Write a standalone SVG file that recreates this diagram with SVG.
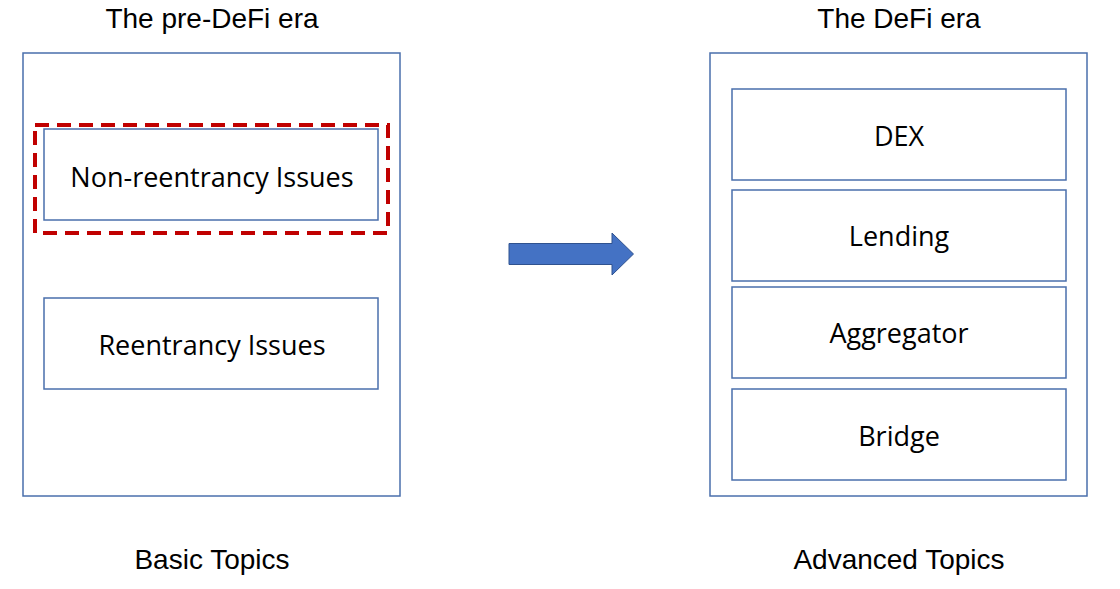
<svg xmlns="http://www.w3.org/2000/svg" width="1120" height="589" viewBox="0 0 1120 589">
<style>
.box{fill:#fff;stroke:#4a6fac;stroke-width:1.5}
.title{font-family:"Liberation Sans",Arial,sans-serif;font-size:28px;fill:#000;text-anchor:middle}
.lbl{font-family:"Open Sans","Noto Sans",sans-serif;font-size:27px;fill:#000;text-anchor:middle}
</style>
<rect width="1120" height="589" fill="#fff"/>
<g id="pre-defi">
<rect class="box" x="23" y="53" width="377" height="443"/>
<text class="title" x="212" y="28">The pre-DeFi era</text>
<text class="title" x="212" y="569">Basic Topics</text>
</g>
<g id="non-reentrancy">
<rect class="box" x="44" y="129" width="334" height="91"/>
<text class="lbl" x="212" y="187">Non-reentrancy Issues</text>
</g>
<g id="highlight">
<rect x="35" y="125" width="353" height="108" fill="none" stroke="#c00000" stroke-width="4" stroke-dasharray="14 8"/>
</g>
<g id="reentrancy">
<rect class="box" x="44" y="298" width="334" height="91"/>
<text class="lbl" x="212" y="355">Reentrancy Issues</text>
</g>
<g id="defi">
<rect class="box" x="710" y="53" width="377" height="443"/>
<text class="title" x="899" y="28">The DeFi era</text>
<text class="title" x="899" y="569">Advanced Topics</text>
</g>
<g id="dex">
<rect class="box" x="732" y="89" width="334" height="91"/>
<text class="lbl" x="899" y="146">DEX</text>
</g>
<g id="lending">
<rect class="box" x="732" y="190" width="334" height="91"/>
<text class="lbl" x="899" y="246">Lending</text>
</g>
<g id="aggregator">
<rect class="box" x="732" y="287" width="334" height="91"/>
<text class="lbl" x="899" y="343">Aggregator</text>
</g>
<g id="bridge">
<rect class="box" x="732" y="389" width="334" height="91"/>
<text class="lbl" x="899" y="446">Bridge</text>
</g>
<g id="connectors">
<path d="M509 243.5 H612 V233 L633.5 254 L612 275 V264.5 H509 Z" fill="#4472c4" stroke="#2f528f" stroke-width="1"/>
</g>
</svg>
